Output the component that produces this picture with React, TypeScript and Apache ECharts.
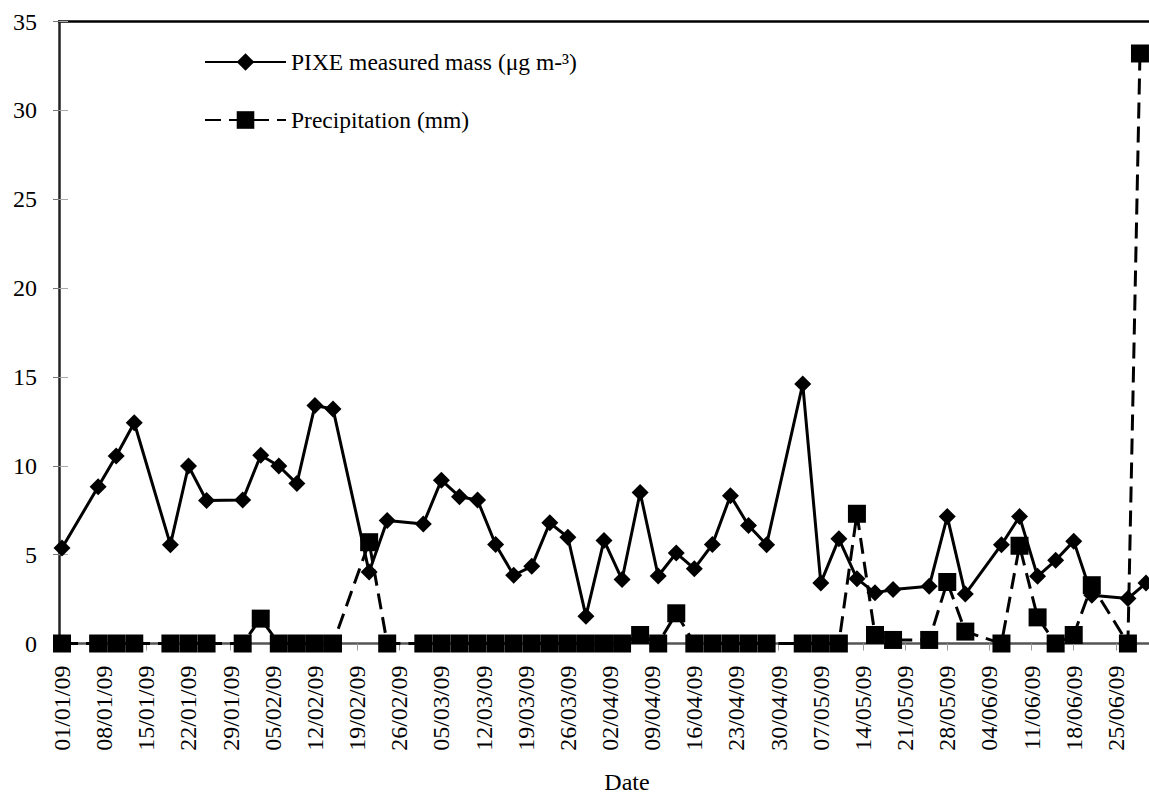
import React, { useEffect, useRef } from 'react';
import * as echarts from 'echarts';

const tickLabels = [
  '01/01/09', '08/01/09', '15/01/09', '22/01/09', '29/01/09', '05/02/09', '12/02/09',
  '19/02/09', '26/02/09', '05/03/09', '12/03/09', '19/03/09', '26/03/09', '02/04/09',
  '09/04/09', '16/04/09', '23/04/09', '30/04/09', '07/05/09', '14/05/09', '21/05/09',
  '28/05/09', '04/06/09', '11/06/09', '18/06/09', '25/06/09',
];

const pixeDates = [
  '01/01/09', '07/01/09', '10/01/09', '13/01/09', '19/01/09', '22/01/09', '25/01/09',
  '31/01/09', '03/02/09', '06/02/09', '09/02/09', '12/02/09', '15/02/09', '21/02/09',
  '24/02/09', '02/03/09', '05/03/09', '08/03/09', '11/03/09', '14/03/09', '17/03/09',
  '20/03/09', '23/03/09', '26/03/09', '29/03/09', '01/04/09', '04/04/09', '07/04/09',
  '10/04/09', '13/04/09', '16/04/09', '19/04/09', '22/04/09', '25/04/09', '28/04/09',
  '04/05/09', '07/05/09', '10/05/09', '13/05/09', '16/05/09', '19/05/09', '25/05/09',
  '28/05/09', '31/05/09', '06/06/09', '09/06/09', '12/06/09', '15/06/09', '18/06/09',
  '21/06/09', '27/06/09', '30/06/09',
];
const pixeMass = [
  5.37, 8.82, 10.55, 12.42, 5.56, 9.99, 8.04,
  8.07, 10.59, 9.99, 9.0, 13.39, 13.2, 4.02,
  6.92, 6.73, 9.19, 8.26, 8.07, 5.57, 3.84,
  4.34, 6.79, 5.98, 1.54, 5.8, 3.6, 8.5,
  3.8, 5.09, 4.21, 5.57, 8.32, 6.64, 5.56,
  14.6, 3.41, 5.89, 3.65, 2.85, 3.04, 3.22,
  7.14, 2.78, 5.56, 7.14, 3.78, 4.68, 5.76,
  2.72, 2.53, 3.4,
];

const precipDates = [
  '01/01/09', '07/01/09', '10/01/09', '13/01/09', '19/01/09', '22/01/09', '25/01/09',
  '31/01/09', '03/02/09', '06/02/09', '09/02/09', '12/02/09', '15/02/09', '21/02/09',
  '24/02/09', '02/03/09', '05/03/09', '08/03/09', '11/03/09', '14/03/09', '17/03/09',
  '20/03/09', '23/03/09', '26/03/09', '29/03/09', '01/04/09', '04/04/09', '07/04/09',
  '10/04/09', '13/04/09', '16/04/09', '19/04/09', '22/04/09', '25/04/09', '28/04/09',
  '04/05/09', '07/05/09', '10/05/09', '13/05/09', '16/05/09', '19/05/09', '25/05/09',
  '28/05/09', '31/05/09', '06/06/09', '09/06/09', '12/06/09', '15/06/09', '18/06/09',
  '21/06/09', '27/06/09', '29/06/09',
];
const precipMm = [
  0, 0, 0, 0, 0, 0, 0,
  0, 1.4, 0, 0, 0, 0, 5.7,
  0, 0, 0, 0, 0, 0, 0,
  0, 0, 0, 0, 0, 0, 0.48,
  0, 1.7, 0, 0, 0, 0, 0,
  0, 0, 0, 7.3, 0.48, 0.2, 0.2,
  3.46, 0.67, 0, 5.5, 1.47, 0, 0.48,
  3.28, 0, 33.2,
];

const yTicks = [0, 5, 10, 15, 20, 25, 30, 35];

const seriesNames = ['PIXE measured mass (μg m-³)', 'Precipitation (mm)'];
const axisTitle = 'Date';

const FONT = 'Liberation Serif';

function buildDays(): string[] {
  const monthLengths = [31, 28, 31, 30, 31, 30];
  const out: string[] = [];
  monthLengths.forEach((len, m) => {
    for (let d = 1; d <= len; d++) {
      out.push(`${String(d).padStart(2, '0')}/${String(m + 1).padStart(2, '0')}/09`);
    }
  });
  return out;
}

export default function App() {
  const ref = useRef<HTMLDivElement>(null);

  useEffect(() => {
    if (!ref.current) return;
    const chart = echarts.init(ref.current, undefined, { renderer: 'svg' });
    const days = buildDays();
    const isTick = (_i: number, v: string) => tickLabels.includes(v);

    chart.setOption({
      animation: false,
      backgroundColor: '#fff',
      textStyle: { fontFamily: FONT },
      grid: { left: 59, top: 21.5, right: -4, bottom: 154.5, containLabel: false },
      legend: {
        orient: 'vertical',
        left: 199,
        top: 45,
        itemWidth: 81,
        itemHeight: 22,
        itemGap: 34,
        textStyle: { fontFamily: FONT, fontSize: 23.5, color: '#000' },
        data: seriesNames,
      },
      xAxis: {
        type: 'category',
        data: days,
        boundaryGap: true,
        axisLine: { show: true, lineStyle: { color: '#555', width: 2.5 } },
        axisTick: { show: true, interval: isTick, alignWithLabel: true, length: 7, lineStyle: { color: '#999', width: 1 } },
        axisLabel: {
          interval: isTick, rotate: 90, margin: 22, fontFamily: FONT, fontSize: 24, color: '#000',
        },
        splitLine: { show: false },
      },
      yAxis: [
        {
          type: 'value',
          min: yTicks[0],
          max: yTicks[yTicks.length - 1],
          interval: 5,
          axisLine: { show: true, lineStyle: { color: '#222', width: 2.5 } },
          axisTick: { show: true, length: 6, lineStyle: { color: '#777', width: 1 } },
          axisLabel: { margin: 22, fontFamily: FONT, fontSize: 24, color: '#000' },
          splitLine: { show: false },
        },
        {
          type: 'value',
          position: 'left',
          min: yTicks[0],
          max: yTicks[yTicks.length - 1],
          interval: 5,
          axisLine: { show: false },
          axisTick: { show: true, inside: true, length: 9, lineStyle: { color: '#aaa', width: 1 } },
          axisLabel: { show: false },
          splitLine: { show: false },
        },
      ],
      series: [
        {
          name: seriesNames[0],
          type: 'line',
          data: pixeDates.map((d, i) => [d, pixeMass[i]]),
          symbol: 'diamond',
          symbolSize: 17,
          showAllSymbol: true,
          lineStyle: { color: '#000', width: 3 },
          itemStyle: { color: '#000' },
          z: 3,
        },
        {
          name: seriesNames[1],
          type: 'line',
          data: precipDates.map((d, i) => [d, precipMm[i]]),
          symbol: 'rect',
          symbolSize: 18,
          showAllSymbol: true,
          lineStyle: { color: '#000', width: 3, type: [16, 8] },
          itemStyle: { color: '#000' },
          z: 4,
        },
      ],
      graphic: [
        {
          type: 'line',
          shape: { x1: 58, y1: 21.5, x2: 1149, y2: 21.5 },
          style: { stroke: '#000', lineWidth: 2.5 },
        },
        {
          type: 'text',
          x: 627,
          y: 782,
          style: { text: axisTitle, fontFamily: FONT, fontSize: 24, fill: '#000', align: 'center', verticalAlign: 'middle' },
        },
      ],
    });

    return () => chart.dispose();
  }, []);

  return (
    <div
      ref={ref}
      style={{ position: 'fixed', left: 0, top: 0, width: 1149, height: 798, background: '#fff' }}
    />
  );
}
